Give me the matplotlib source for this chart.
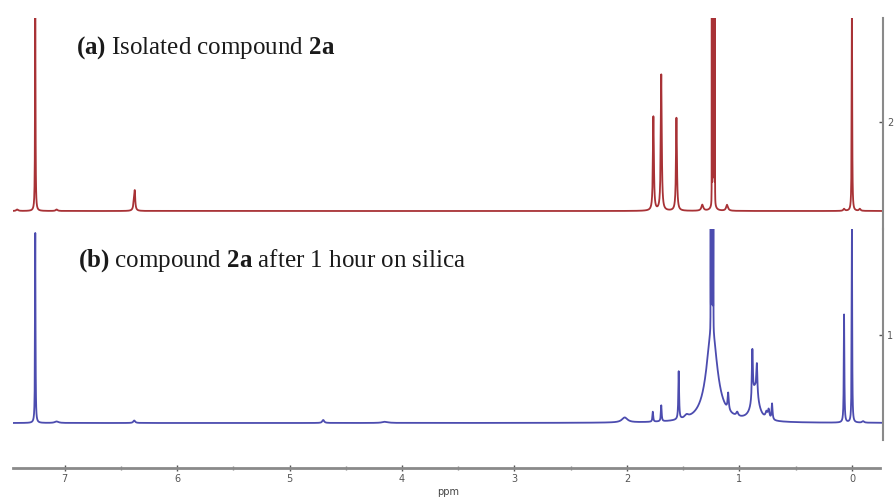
import numpy as np
import matplotlib
matplotlib.use("Agg")
import matplotlib.pyplot as plt

plt.rcParams['mathtext.fontset'] = 'custom'
plt.rcParams['mathtext.rm'] = 'Liberation Serif'
plt.rcParams['mathtext.bf'] = 'Liberation Serif:bold'

# ---- peak lists (ppm, height, half-width) ----
# (a) isolated compound 2a  (heights in pixel-like intensity units)
a_ppm    = [7.42, 7.26, 7.07, 6.38, 6.375, 1.765, 1.695, 1.56, 1.33,
            1.232, 1.246, 1.242, 1.238, 1.234, 1.230, 1.226, 1.222, 1.218,
            1.11, 0.07, 0.00, -0.07]
a_height = [1.5, 210, 1.5, 12, 12, 94, 136, 93, 6,
            14, 240, 250, 260, 260, 260, 260, 250, 240,
            6, 2, 210, 2]
a_width  = [0.01, 0.0025, 0.01, 0.008, 0.004, 0.005, 0.005, 0.005, 0.01,
            0.014, 0.0004, 0.0004, 0.0004, 0.0004, 0.0004, 0.0004, 0.0004, 0.0004,
            0.01, 0.008, 0.0025, 0.008]

# (b) compound 2a after 1 hour on silica
b_ppm    = [7.26, 7.07, 6.38, 4.70, 4.15, 2.02, 1.77, 1.695, 1.54, 1.47, 1.245,
            1.256, 1.252, 1.248, 1.244, 1.240, 1.236, 1.232,
            1.10, 1.02, 0.86, 0.885, 0.845, 0.76, 0.74, 0.71, 0.07, 0.00, -0.1]
b_height = [190, 1.5, 2.5, 3, 1.2, 5, 10, 16, 48, 3, 95,
            190, 200, 210, 210, 210, 200, 190,
            17, 4, 32, 50, 30, 6, 9, 16, 108, 194, 1.5]
b_width  = [0.0025, 0.02, 0.01, 0.01, 0.03, 0.03, 0.004, 0.004, 0.004, 0.02, 0.057,
            0.0005, 0.0005, 0.0005, 0.0005, 0.0005, 0.0005, 0.0005,
            0.006, 0.01, 0.035, 0.005, 0.005, 0.01, 0.008, 0.005, 0.003, 0.0025, 0.01]

x_ticks = [7, 6, 5, 4, 3, 2, 1, 0]
label_a = r"$\mathbf{(a)}$ Isolated compound $\mathbf{2a}$"
label_b = r"$\mathbf{(b)}$ compound $\mathbf{2a}$ after 1 hour on silica"

ppm = np.linspace(-0.3, 7.5, 160000)

def spectrum(pos, hgt, wid):
    y = np.zeros_like(ppm)
    for p, h, w in zip(pos, hgt, wid):
        y += h * w**2 / ((ppm - p)**2 + w**2)
    return y

W, H = 894, 497
def rect(x0, y0, x1, y1):
    return [x0 / W, 1 - y1 / H, (x1 - x0) / W, (y1 - y0) / H]

fig = plt.figure(figsize=(8.94, 4.97), dpi=100)
XL = (7.458, -0.276)

ax_top = fig.add_axes(rect(13, 18, 883, 229))
ax_bot = fig.add_axes(rect(13, 229, 883, 440))
red = '#a83236'
blue = '#4c4caf'
ax_top.plot(ppm, spectrum(a_ppm, a_height, a_width), color=red, lw=1.3)
ax_bot.plot(ppm, spectrum(b_ppm, b_height, b_width), color=blue, lw=1.3)
ax_top.set_ylim(-18, 193)
ax_bot.set_ylim(-17, 194)

for ax, tk, lab in [(ax_top, 89, '2'), (ax_bot, 88, '1')]:
    ax.set_xlim(*XL)
    for s in ['top', 'left', 'bottom']:
        ax.spines[s].set_visible(False)
    ax.spines['right'].set_color('#8a8a8a')
    ax.spines['right'].set_linewidth(1.5)
    ax.set_xticks([])
    ax.yaxis.tick_right()
    ax.set_yticks([tk])
    ax.set_yticklabels([lab])
    ax.tick_params(axis='y', direction='in', length=3, width=1, colors='#555555',
                   labelsize=7, pad=3)
    ax.patch.set_alpha(0)

ax_top.text(0.072, 0.86, label_a, transform=ax_top.transAxes, fontsize=18,
            family='Liberation Serif', color='#1a1a1a', va='center')
ax_bot.text(0.075, 0.85, label_b, transform=ax_bot.transAxes, fontsize=18,
            family='Liberation Serif', color='#1a1a1a', va='center')

ax_x = fig.add_axes(rect(13, 460, 883, 468))
ax_x.set_xlim(*XL)
ax_x.set_yticks([])
for s in ['top', 'left', 'right']:
    ax_x.spines[s].set_visible(False)
ax_x.spines['bottom'].set_color('#8a8a8a')
ax_x.spines['bottom'].set_linewidth(2)
ax_x.spines['bottom'].set_bounds(7.458, -0.25)
ax_x.set_xticks(x_ticks)
ax_x.set_xticks(np.arange(-0.0, 7.5, 0.5), minor=True)
ax_x.tick_params(axis='x', which='major', direction='inout', length=5, width=1,
                 colors='#555555', labelsize=7, pad=2)
ax_x.tick_params(axis='x', which='minor', direction='inout', length=3, width=1, colors='#888888')
ax_x.set_xlabel('ppm', fontsize=7, color='#444444', labelpad=2)
ax_x.patch.set_alpha(0)

fig.savefig('out.png', dpi=100)
